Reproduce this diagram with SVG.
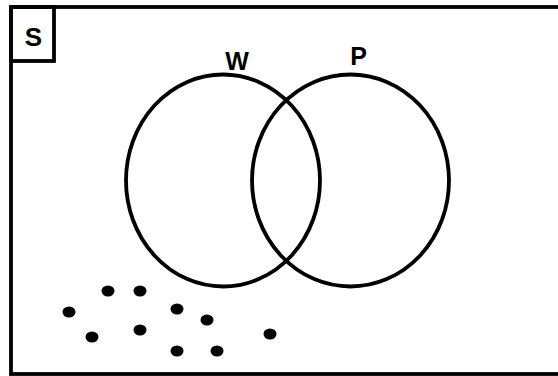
<svg xmlns="http://www.w3.org/2000/svg" width="558" height="376" viewBox="0 0 558 376">
<style>
.ln{fill:none;stroke:#000;stroke-width:3.8}
.lbl{font-family:"Liberation Sans",Arial,sans-serif;font-weight:bold;font-size:25px;fill:#000}
.dot{fill:#000}
</style>
<rect width="558" height="376" fill="#fff"/>
<g id="universe">
<rect class="ln" x="11" y="7" width="560" height="367"/>
<rect class="ln" x="11" y="7" width="43" height="54"/>
<text class="lbl" x="33.5" y="46" text-anchor="middle" style="font-size:26px">S</text>
</g>
<g id="W">
<ellipse class="ln" cx="223" cy="180.5" rx="97" ry="106"/>
<text class="lbl" x="237" y="70" text-anchor="middle">W</text>
</g>
<g id="P">
<ellipse class="ln" cx="350.5" cy="180.5" rx="98.5" ry="106"/>
<text class="lbl" x="358.5" y="65" text-anchor="middle">P</text>
</g>
<g id="dots" class="dot">
<ellipse cx="108" cy="291" rx="6.5" ry="5.5"/>
<ellipse cx="140" cy="291" rx="6.5" ry="5.5"/>
<ellipse cx="69" cy="312" rx="6.5" ry="5.5"/>
<ellipse cx="177" cy="309" rx="6.5" ry="5.5"/>
<ellipse cx="207" cy="320" rx="6.5" ry="5.5"/>
<ellipse cx="92" cy="337" rx="6.5" ry="5.5"/>
<ellipse cx="140" cy="330" rx="6.5" ry="5.5"/>
<ellipse cx="270" cy="334" rx="6.5" ry="5.5"/>
<ellipse cx="177" cy="351" rx="6.5" ry="5.5"/>
<ellipse cx="217" cy="351" rx="6.5" ry="5.5"/>
</g>
<g id="connectors"/>
</svg>
